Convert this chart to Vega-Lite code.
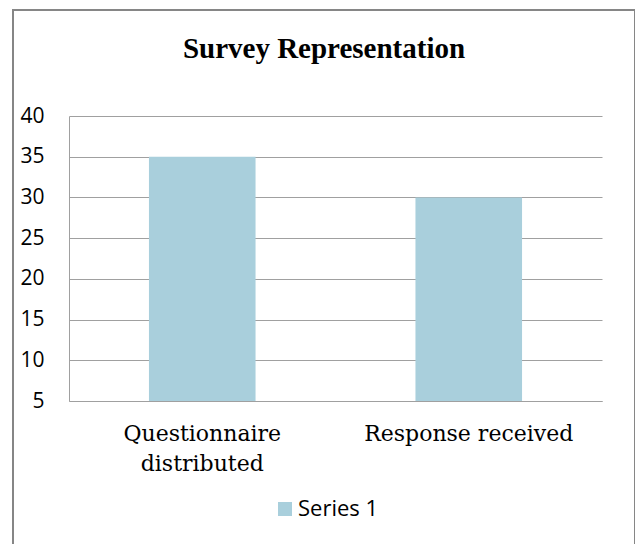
{
  "$schema": "https://vega.github.io/schema/vega-lite/v6.json",
  "autosize": {"type": "none"},
  "padding": {"left": 13, "top": 10, "right": 0, "bottom": 0},
  "width": 622,
  "height": 545,
  "background": "white",
  "title": {
    "text": "Survey Representation",
    "font": "Liberation Serif",
    "fontSize": 29,
    "fontWeight": "bold",
    "color": "#000000",
    "anchor": "middle",
    "frame": "group",
    "baseline": "alphabetic",
    "offset": 0,
    "dy": 77
  },
  "data": {
    "values": [
      {"category": "Questionnaire distributed", "value": 35, "series": "Series 1"},
      {"category": "Response received", "value": 30, "series": "Series 1"}
    ]
  },
  "mark": {"type": "bar"},
  "encoding": {
    "x": {
      "field": "category",
      "type": "nominal",
      "sort": null,
      "scale": {"range": [56, 589], "paddingInner": 0.6, "paddingOuter": 0.3},
      "axis": {
        "title": null,
        "orient": "bottom",
        "offset": -154,
        "labelAngle": 0,
        "ticks": false,
        "tickSize": 0,
        "grid": false,
        "domainColor": "#a0a0a0",
        "domainWidth": 1,
        "labelFont": "DejaVu Serif",
        "labelFontSize": 22,
        "labelColor": "#000000",
        "labelPadding": 22,
        "labelLineHeight": 30,
        "labelLimit": 0,
        "labelExpr": "datum.label == 'Questionnaire distributed' ? ['Questionnaire', 'distributed'] : datum.label"
      }
    },
    "y": {
      "field": "value",
      "type": "quantitative",
      "scale": {"domain": [5, 40], "range": [391, 106], "nice": false, "zero": false},
      "axis": {
        "title": null,
        "orient": "left",
        "offset": -56,
        "values": [5, 10, 15, 20, 25, 30, 35, 40],
        "ticks": false,
        "tickSize": 0,
        "grid": true,
        "gridColor": "#a0a0a0",
        "gridWidth": 1,
        "domainColor": "#a0a0a0",
        "domainWidth": 1,
        "labelFont": "Open Sans",
        "labelFontSize": 21,
        "labelColor": "#000000",
        "labelPadding": 25
      }
    },
    "y2": {"datum": 5},
    "fill": {
      "field": "series",
      "type": "nominal",
      "scale": {"range": ["#a9cfdc"]},
      "legend": {
        "title": null,
        "orient": "none",
        "legendX": 261,
        "legendY": 488,
        "symbolType": "square",
        "symbolSize": 196,
        "symbolStrokeWidth": 0,
        "labelFont": "Open Sans",
        "labelFontSize": 22,
        "labelColor": "#000000",
        "labelOffset": 2
      }
    }
  },
  "config": {
    "view": {"stroke": "#868686", "strokeWidth": 2, "fill": "white"}
  }
}
